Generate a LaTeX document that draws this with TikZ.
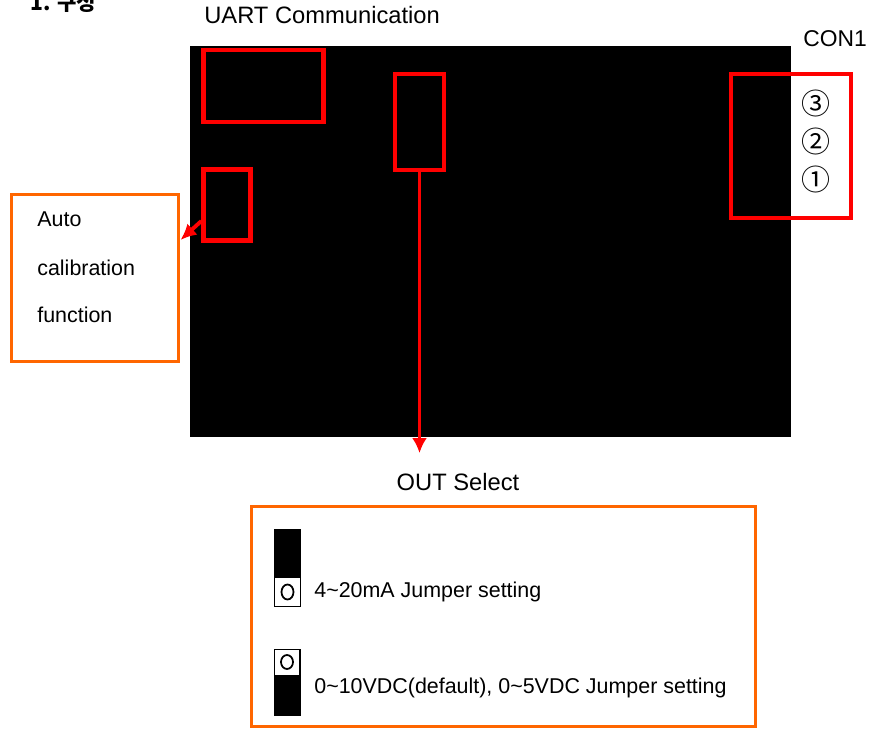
\documentclass[tikz,border=0pt]{standalone}
\usepackage{fontspec}
\setmainfont{Liberation Sans}
\newfontfamily\kofont{Noto Sans CJK KR}
\usepackage{tikz}
\usetikzlibrary{arrows.meta}
\definecolor{redline}{RGB}{255,0,0}
\definecolor{orangeline}{RGB}{255,102,0}

\begin{document}
\begin{tikzpicture}
		[x=0.02cm, y=-0.02cm,
		redbox/.style={draw=redline, line width=2.5pt, inner sep=0pt},
		orangebox/.style={draw=orangeline, line width=1.7pt, fill=white, inner sep=0pt},
		heading/.style={font=\fontsize{13.5}{16}\selectfont, inner sep=0pt},
		label/.style={font=\fontsize{12.2}{14}\selectfont, inner sep=0pt, anchor=base west},
		pin/.style={font=\kofont\fontsize{16.5}{18}\selectfont, inner sep=0pt},
		jumper/.style={draw=black, line width=0.8pt, fill=white}]
		\useasboundingbox (0,0) rectangle (876,729);
		\fill[white] (0,0) rectangle (876,729);

		\node[anchor=base west, inner sep=0pt, font=\kofont\bfseries\fontsize{12}{14}\selectfont] (chapter) at (30,11) {1. 구성};

		\fill[black] (190,46) rectangle (791,437);

		\node[redbox, minimum width=2.4cm, minimum height=1.44cm] (uart) at (263.5,86) {};
		\node[redbox, minimum width=0.98cm, minimum height=1.92cm] (outsel) at (419.5,122) {};
		\node[redbox, minimum width=0.94cm, minimum height=1.42cm] (autocal) at (227,205) {};
		\node[redbox, minimum width=2.4cm, minimum height=2.88cm] (con) at (791,146) {};

		\node[heading, anchor=base west] (uarttext) at (204,24) {UART Communication};
		\node[heading, anchor=base west, font=\fontsize{13}{15}\selectfont] (context) at (803,47) {CON1};
		\node[pin] (pin3) at (816,103) {③};
		\node[pin] (pin2) at (816,141) {②};
		\node[pin] (pin1) at (816,179) {①};

		\node[orangebox, minimum width=3.36cm, minimum height=3.36cm] (autobox) at (95,278) {};
		\node[label] (auto1) at (37,227) {Auto};
		\node[label] (auto2) at (37,276) {calibration};
		\node[label] (auto3) at (37,323) {function};

		\coordinate (outtip) at (419.5,453);
		\node[heading, anchor=base] (outtext) at (458,491) {OUT Select};

		\node[orangebox, minimum width=10.08cm, minimum height=4.4cm] (outbox) at (503.5,616.5) {};

		\fill[black] (274,529) rectangle (301,578);
		\draw[jumper] (274.5,577) rectangle (300.5,606.5);
		\draw[line width=1pt] (287.5,592) ellipse [x radius=0.12cm, y radius=0.15cm];
		\node[label] (jump1) at (314,597) {4\textasciitilde 20mA Jumper setting};

		\draw[jumper] (274.5,649.5) rectangle (300,676);
		\draw[line width=1pt] (287,662) ellipse [x radius=0.12cm, y radius=0.14cm];
		\fill[black] (274,675) rectangle (300.5,716);
		\node[label] (jump2) at (314,693) {0\textasciitilde 10VDC(default), 0\textasciitilde 5VDC Jumper setting};

		\draw[-{Latex[length=0.3cm, width=0.3cm]}, redline, line width=1.5pt] (outsel.south) -- (outtip);
		\draw[-{Latex[length=0.32cm, width=0.3cm]}, redline, line width=2.2pt] (autocal.212) -- ([yshift=0.76cm]autobox.east);
	\end{tikzpicture}
\end{document}
